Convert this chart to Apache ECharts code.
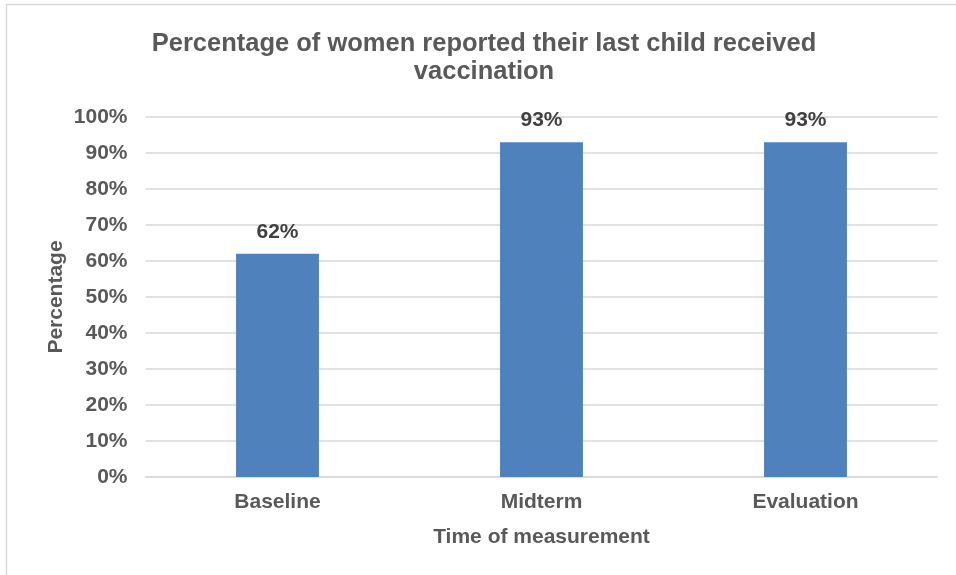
<!DOCTYPE html>
<html>
<head>
<meta charset="utf-8">
<style>
  html, body { margin: 0; padding: 0; background: #ffffff; }
  #chart { width: 956px; height: 575px; }
</style>
<script src="https://cdn.jsdelivr.net/npm/echarts@6/dist/echarts.min.js"></script>
</head>
<body>
<div id="chart"></div>
<script>
// Survey stages and the share of women reporting vaccination at each
const categories = ['Baseline', 'Midterm', 'Evaluation'];
const vaccinatedPct = [62, 93, 93];
const yTicks = [0, 10, 20, 30, 40, 50, 60, 70, 80, 90, 100];

const textGray = '#595959';
const fontFamily = '"Liberation Sans", Arial, sans-serif';

const chart = echarts.init(document.getElementById('chart'), null, { renderer: 'canvas' });

chart.setOption({
  animation: false,
  backgroundColor: '#ffffff',
  title: {
    text: 'Percentage of women reported their last child received\nvaccination',
    left: 479,
    top: 25,
    textAlign: 'center',
    textStyle: {
      fontFamily: fontFamily,
      fontSize: 25.5,
      fontWeight: 'bold',
      color: textGray,
      lineHeight: 28
    }
  },
  graphic: [{
    type: 'rect',
    shape: { x: 6.5, y: 4.5, width: 1000, height: 1000 },
    style: { fill: 'none', stroke: '#d9d9d9', lineWidth: 1.5 },
    silent: true
  }],
  grid: {
    left: 145.5,
    right: 18.5,
    top: 117,
    bottom: 98
  },
  xAxis: {
    type: 'category',
    data: categories,
    name: 'Time of measurement',
    nameLocation: 'middle',
    nameGap: 50,
    nameTextStyle: {
      fontFamily: fontFamily,
      fontSize: 21,
      fontWeight: 'bold',
      color: textGray
    },
    axisTick: { show: false },
    axisLine: { show: true, lineStyle: { color: '#d9d9d9', width: 1.5 } },
    axisLabel: {
      margin: 15,
      fontFamily: fontFamily,
      fontSize: 21,
      fontWeight: 'bold',
      color: textGray
    }
  },
  yAxis: {
    type: 'value',
    min: yTicks[0],
    max: yTicks[yTicks.length - 1],
    interval: yTicks[1] - yTicks[0],
    name: 'Percentage',
    nameLocation: 'middle',
    nameGap: 79,
    nameMoveOverlap: false,
    nameRotate: 90,
    nameTextStyle: {
      fontFamily: fontFamily,
      fontSize: 21,
      fontWeight: 'bold',
      color: textGray
    },
    axisLine: { show: false },
    axisTick: { show: false },
    splitLine: { show: true, lineStyle: { color: '#d9d9d9', width: 1.5 } },
    axisLabel: {
      margin: 18,
      formatter: v => v + '%',
      fontFamily: fontFamily,
      fontSize: 21,
      fontWeight: 'bold',
      color: textGray
    }
  },
  series: [{
    type: 'bar',
    data: vaccinatedPct,
    barWidth: '31.4%',
    itemStyle: { color: '#4f81bd' },
    label: {
      show: true,
      position: 'top',
      distance: 11,
      formatter: p => p.value + '%',
      fontFamily: fontFamily,
      fontSize: 21,
      fontWeight: 'bold',
      color: '#404040'
    }
  }]
});
</script>
</body>
</html>
